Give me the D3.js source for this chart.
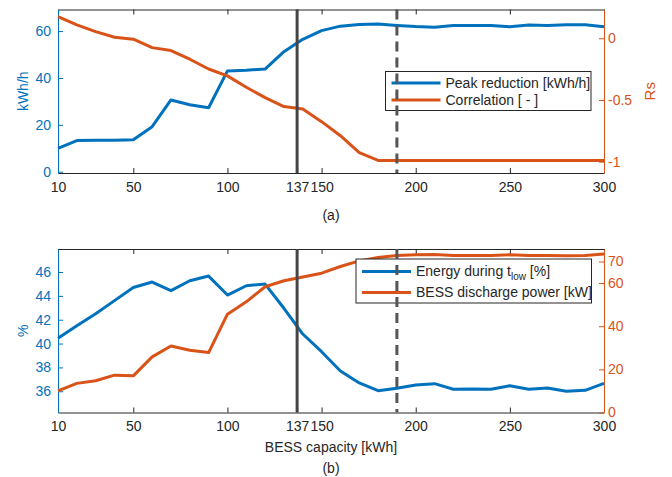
<!DOCTYPE html>
<html>
<head>
<meta charset="utf-8">
<script src="https://cdn.jsdelivr.net/npm/d3@7"></script>
<style>
  body { margin: 0; background: #fff; }
  svg { display: block; font-family: "Liberation Sans", Arial, sans-serif; }
</style>
</head>
<body>
<script>
// datos
const capacity = [10, 20, 30, 40, 50, 60, 70, 80, 90, 100, 110, 120, 130, 140, 150,
                  160, 170, 180, 190, 200, 210, 220, 230, 240, 250, 260, 270, 280, 290, 300];

const peakReduction = [10.0, 13.3, 13.4, 13.4, 13.6, 19.2, 30.6, 28.6, 27.3, 43.0, 43.3, 43.8, 51.2, 56.5, 60.2,
                       62.1, 62.8, 63.0, 62.4, 61.9, 61.6, 62.4, 62.4, 62.4, 61.8, 62.6, 62.4, 62.7, 62.7, 61.8];

const correlation = [0.175, 0.108, 0.054, 0.008, -0.008, -0.076, -0.100, -0.170, -0.249, -0.305, -0.397, -0.481, -0.554, -0.573, -0.676,
                     -0.790, -0.927, -0.990, -0.990, -0.990, -0.990, -0.990, -0.990, -0.990, -0.990, -0.990, -0.990, -0.990, -0.990, -0.990];

const energyLow = [40.44, 41.5, 42.5, 43.6, 44.7, 45.16, 44.44, 45.27, 45.66, 44.07, 44.85, 44.99, 42.96, 40.8, 39.32,
                   37.7, 36.7, 36.05, 36.25, 36.53, 36.64, 36.17, 36.19, 36.17, 36.47, 36.17, 36.28, 36.0, 36.08, 36.67];

const dischargePower = [10.0, 13.5, 14.7, 17.3, 17.0, 25.8, 30.8, 28.9, 27.8, 45.6, 51.3, 58.3, 61.1, 62.8, 64.6,
                        67.7, 70.3, 71.9, 72.8, 73.1, 73.2, 72.8, 72.8, 72.8, 73.1, 72.8, 72.8, 72.7, 72.8, 73.5];

const xTicks = [10, 50, 100, 137, 150, 200, 250, 300];
const markerSolid = 137;
const markerDashed = 190;

const topLeftTicks = [0, 20, 40, 60];
const topRightTicks = [-1, -0.5, 0];
const botLeftTicks = [36, 38, 40, 42, 44, 46];
const botRightTicks = [0, 20, 40, 60, 70];

const legendTop = ['Peak reduction [kWh/h]', 'Correlation [ - ]'];
const legendBot = ['Energy during t', 'BESS discharge power [kW]'];

const blue = '#0072BD';
const orange = '#D95319';
const gray = '#262626';

const W = 672, H = 477;
const left = 58, right = 604;

const svg = d3.select('body').append('svg')
    .attr('width', W)
    .attr('height', H);

const x = d3.scaleLinear().domain([10, 300]).range([left, right]);

function drawPanel(cfg) {
    const {top, bottom, yL, yR, leftTicks, rightTicks, seriesL, seriesR, yLabelL, yLabelR, caption, legend} = cfg;
    const g = svg.append('g');

    // ejes x abajo y arriba
    g.append('g')
     .attr('transform', 'translate(0,' + bottom + ')')
     .call(d3.axisBottom(x).tickValues(xTicks).tickSizeInner(-5).tickSizeOuter(0).tickPadding(9).tickFormat(d3.format('d')))
     .call(a => a.selectAll('path,line').attr('stroke', gray))
     .call(a => a.selectAll('text').attr('fill', gray).attr('font-size', 14));

    g.append('g')
     .attr('transform', 'translate(0,' + top + ')')
     .call(d3.axisTop(x).tickValues(xTicks).tickSizeInner(-5).tickSizeOuter(0).tickFormat(''))
     .call(a => a.selectAll('path,line').attr('stroke', gray));

    // eje izquierdo
    g.append('g')
     .attr('transform', 'translate(' + left + ',0)')
     .call(d3.axisLeft(yL).tickValues(leftTicks).tickSizeInner(-5).tickSizeOuter(0).tickPadding(7).tickFormat(d => String(d)))
     .call(a => a.selectAll('path,line').attr('stroke', blue))
     .call(a => a.selectAll('text').attr('fill', blue).attr('font-size', 14));

    // eje derecho
    g.append('g')
     .attr('transform', 'translate(' + right + ',0)')
     .call(d3.axisRight(yR).tickValues(rightTicks).tickSizeInner(-5).tickSizeOuter(0).tickPadding(4).tickFormat(d => String(d)))
     .call(a => a.selectAll('path,line').attr('stroke', orange))
     .call(a => a.selectAll('text').attr('fill', orange).attr('font-size', 14));

    const lineL = d3.line().x((d, i) => x(capacity[i])).y(d => yL(d));
    const lineR = d3.line().x((d, i) => x(capacity[i])).y(d => yR(d));

    g.append('path').datum(seriesL)
     .attr('d', lineL).attr('fill', 'none').attr('stroke', blue).attr('stroke-width', 3).attr('stroke-linejoin', 'round');
    g.append('path').datum(seriesR)
     .attr('d', lineR).attr('fill', 'none').attr('stroke', orange).attr('stroke-width', 3).attr('stroke-linejoin', 'round');

    // leyenda
    const lg = g.append('g');
    lg.append('rect')
      .attr('x', legend.x).attr('y', legend.y)
      .attr('width', legend.w).attr('height', legend.h)
      .attr('fill', '#fff').attr('stroke', gray).attr('stroke-width', 1);
    [blue, orange].forEach((c, i) => {
        const cy = legend.y + legend.rows[i];
        lg.append('line')
          .attr('x1', legend.x + 6).attr('x2', legend.x + 55)
          .attr('y1', cy).attr('y2', cy)
          .attr('stroke', c).attr('stroke-width', 3);
        const t = lg.append('text')
          .attr('x', legend.x + 60).attr('y', cy)
          .attr('dy', '0.35em')
          .attr('font-size', 14)
          .attr('fill', gray)
          .text(legend.labels[i]);
        if (legend.sub && i === 0) {
            t.append('tspan').attr('font-size', 10).attr('dy', 4).text('low');
            t.append('tspan').attr('dy', -4).text(' [%]');
        }
    });

    // lineas verticales
    g.append('line')
     .attr('x1', x(markerSolid)).attr('x2', x(markerSolid))
     .attr('y1', top).attr('y2', bottom)
     .attr('stroke', '#454545').attr('stroke-width', 3);
    g.append('line')
     .attr('x1', x(markerDashed)).attr('x2', x(markerDashed))
     .attr('y1', top).attr('y2', bottom)
     .attr('stroke', '#555').attr('stroke-width', 3)
     .attr('stroke-dasharray', '10,6');

    // etiquetas de eje
    g.append('text')
     .attr('transform', 'translate(23,' + ((top + bottom) / 2) + ') rotate(-90)')
     .attr('text-anchor', 'middle').attr('dy', '0.35em')
     .attr('font-size', 14).attr('fill', blue)
     .text(yLabelL);
    if (yLabelR) {
        g.append('text')
         .attr('transform', 'translate(650,' + ((top + bottom) / 2) + ') rotate(-90)')
         .attr('text-anchor', 'middle').attr('dy', '0.35em')
         .attr('font-size', 15).attr('fill', orange)
         .text(yLabelR);
    }
    g.append('text')
     .attr('x', (left + right) / 2).attr('y', caption)
     .attr('text-anchor', 'middle').attr('dy', '0.35em')
     .attr('font-size', 14).attr('fill', gray)
     .text(cfg.captionText);
}

drawPanel({
    top: 9.5, bottom: 173,
    yL: d3.scaleLinear().domain([-0.55, 69.2]).range([173, 9.5]),
    yR: d3.scaleLinear().domain([-1.092, 0.233]).range([173, 9.5]),
    leftTicks: topLeftTicks, rightTicks: topRightTicks,
    seriesL: peakReduction, seriesR: correlation,
    yLabelL: 'kWh/h', yLabelR: 'Rs',
    caption: 215, captionText: '(a)',
    legend: {x: 385.5, y: 71.5, w: 205.5, h: 39, rows: [11.5, 28.5], labels: legendTop}
});

drawPanel({
    top: 249, bottom: 412.5,
    yL: d3.scaleLinear().domain([34.22, 47.93]).range([412.5, 249]),
    yR: d3.scaleLinear().domain([0, 75.8]).range([412.5, 249]),
    leftTicks: botLeftTicks, rightTicks: botRightTicks,
    seriesL: energyLow, seriesR: dischargePower,
    yLabelL: '%', yLabelR: null,
    caption: 468, captionText: '(b)',
    legend: {x: 356, y: 259, w: 235.5, h: 44, rows: [12.5, 33.5], labels: legendBot, sub: true}
});

svg.append('text')
   .attr('x', (left + right) / 2).attr('y', 447)
   .attr('text-anchor', 'middle').attr('dy', '0.35em')
   .attr('font-size', 14).attr('fill', gray)
   .text('BESS capacity [kWh]');
</script>
</body>
</html>
